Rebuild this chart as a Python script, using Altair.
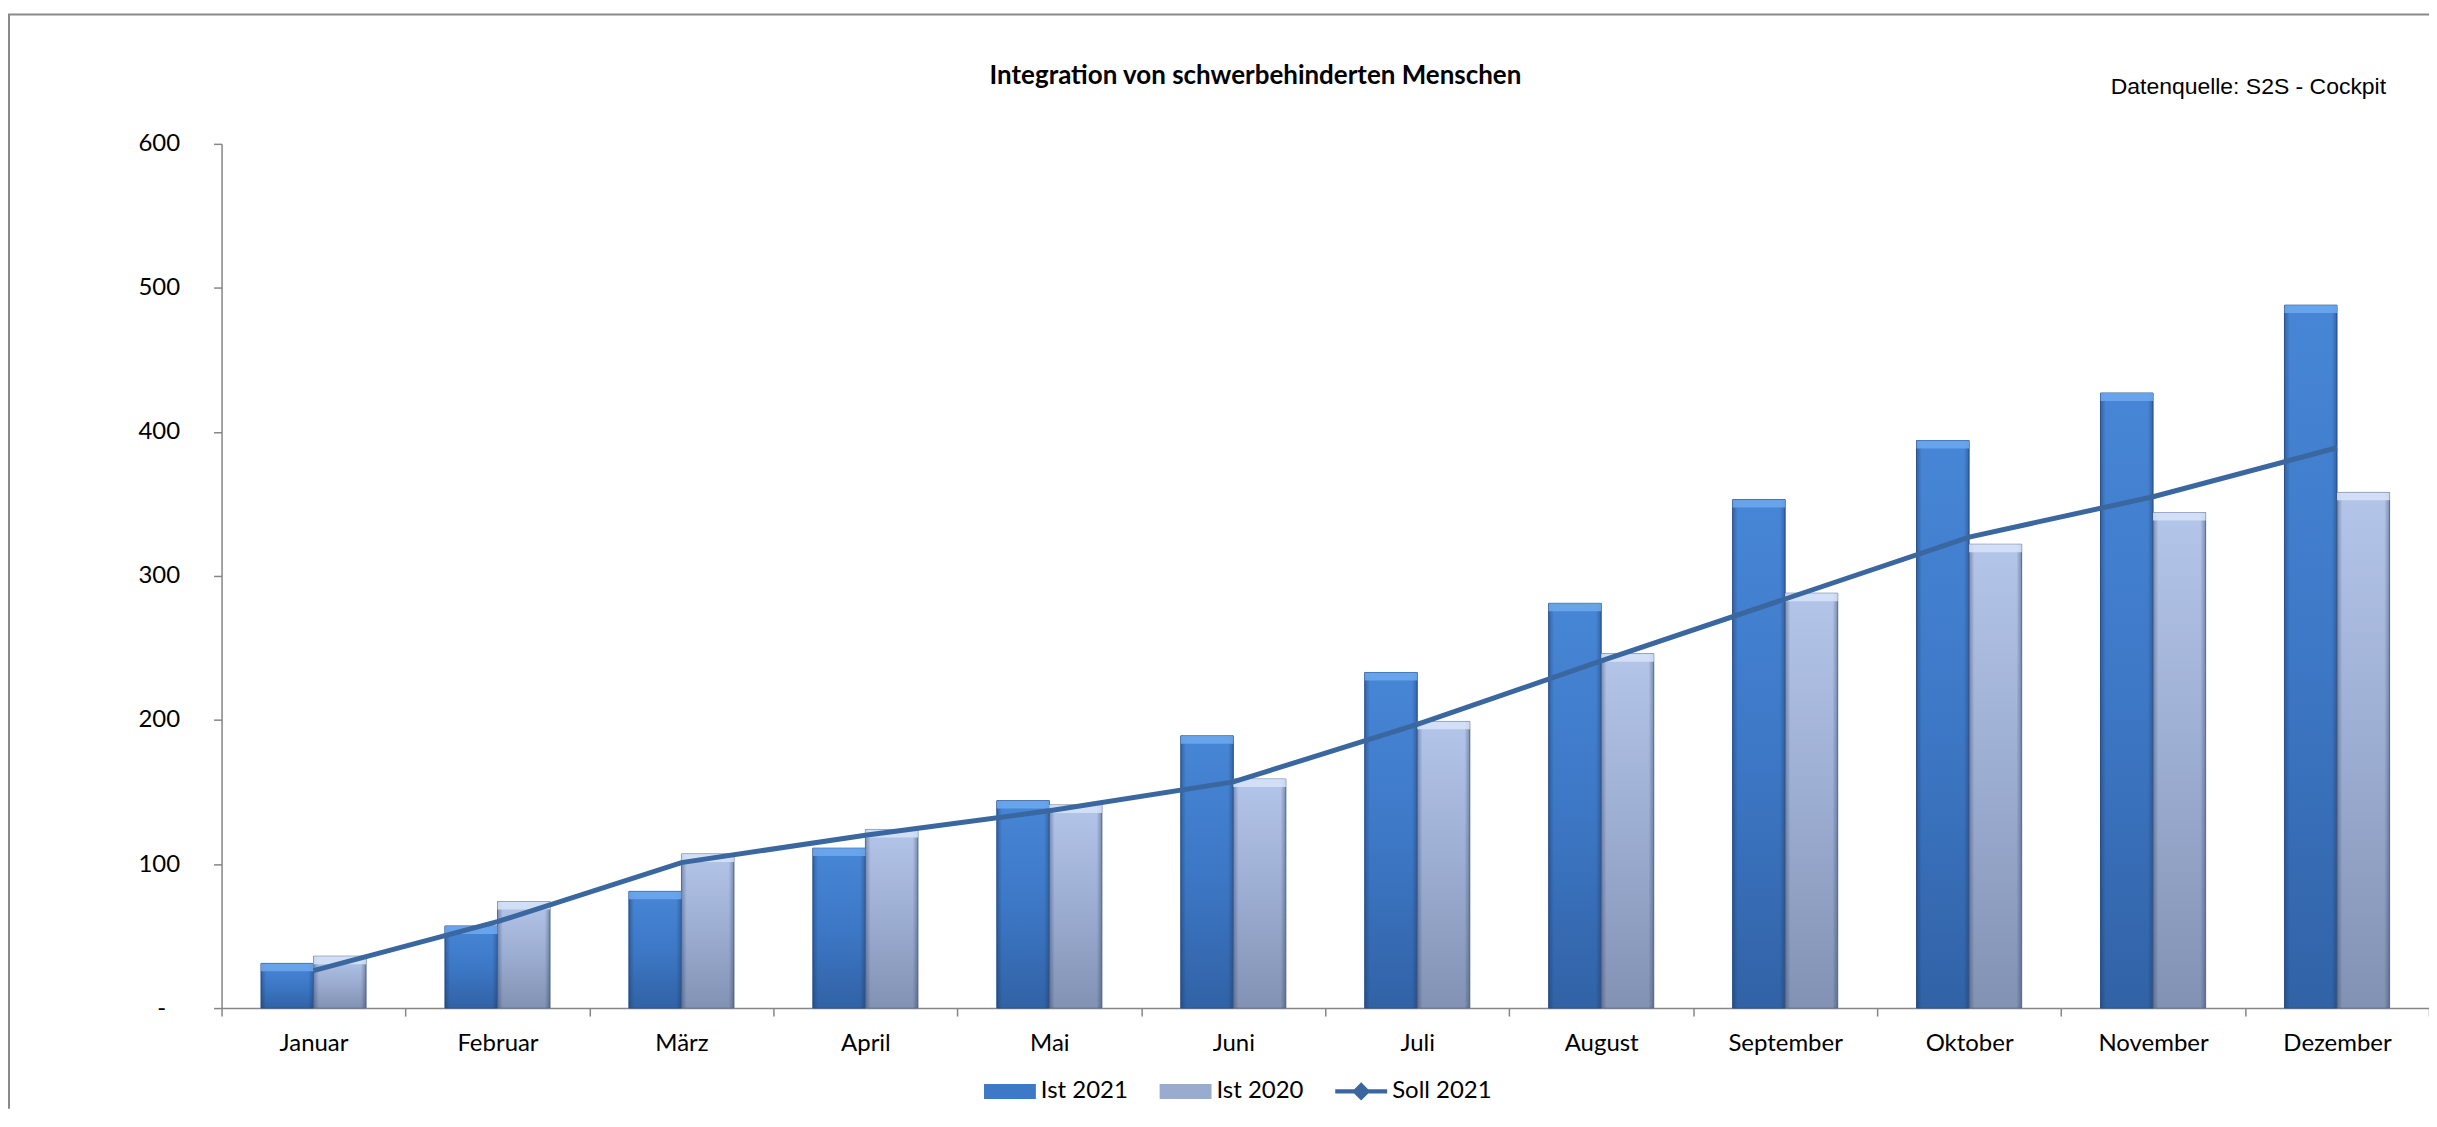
import altair as alt
import pandas as pd

months = ["Januar", "Februar", "März", "April", "Mai", "Juni", "Juli",
          "August", "September", "Oktober", "November", "Dezember"]
ist_2021 = [31, 57, 81, 111, 144, 189, 233, 281, 353, 394, 427, 488]
ist_2020 = [36, 74, 107, 124, 141, 159, 199, 246, 288, 322, 344, 358]
soll_2021 = [26, 60, 101, 120, 137, 157, 197, 241, 284, 327, 355, 389]
series_names = ["Ist 2021", "Ist 2020", "Soll 2021"]
y_ticks = [0, 100, 200, 300, 400, 500, 600]

title_text = "Integration von schwerbehinderten Menschen"
source_text = "Datenquelle: S2S - Cockpit"

W, H = 2212, 866
FONT = "Lato"

bars_df = pd.DataFrame(
    [{"month": m, "series": "Ist 2021", "value": v} for m, v in zip(months, ist_2021)]
    + [{"month": m, "series": "Ist 2020", "value": v} for m, v in zip(months, ist_2020)]
)
line_df = pd.DataFrame({"month": months, "series": "Soll 2021", "value": soll_2021})
legend_df = pd.DataFrame({"month": ["Januar"] * 3, "series": series_names, "value": [0, 0, 0]})

x_enc = alt.X(
    "month:N",
    sort=months,
    scale=alt.Scale(domain=months, paddingInner=0, paddingOuter=0),
    axis=alt.Axis(
        title=None, labelAngle=0, tickBand="extent", tickSize=8, labelPadding=16,
        labelFont=FONT, labelFontSize=24, labelColor="#000000",
        domainColor="#868686", tickColor="#868686", domainWidth=1.5, tickWidth=1.5,
        grid=False,
    ),
)
y_axis = alt.Axis(
    title=None, values=y_ticks, grid=False, tickSize=8,
    labelPadding={"condition": {"test": "datum.value == 0", "value": 48}, "value": 34},
    labelFont=FONT, labelFontSize=24, labelColor="#000000",
    domainColor="#868686", tickColor="#868686", domainWidth=1.5, tickWidth=1.5,
    labelExpr="datum.value == 0 ? '-' : datum.label",
)
y_scale = alt.Scale(domain=[0, 600], nice=False, zero=True)
xoff = alt.XOffset(
    "series:N",
    scale=alt.Scale(domain=["Ist 2021", "Ist 2020"], paddingInner=0, paddingOuter=0.75),
)

grad_2021 = alt.Gradient(
    gradient="linear", x1=0, x2=0, y1=0, y2=1,
    stops=[alt.GradientStop(color="#4786d6", offset=0),
           alt.GradientStop(color="#3d78c6", offset=0.5),
           alt.GradientStop(color="#3162a6", offset=1)],
)
grad_2020 = alt.Gradient(
    gradient="linear", x1=0, x2=0, y1=0, y2=1,
    stops=[alt.GradientStop(color="#b3c5e8", offset=0),
           alt.GradientStop(color="#9cadd2", offset=0.5),
           alt.GradientStop(color="#8292b3", offset=1)],
)
edge_grad = alt.Gradient(
    gradient="linear", x1=0, x2=1, y1=0, y2=0,
    stops=[alt.GradientStop(color="rgba(20,40,80,0.35)", offset=0),
           alt.GradientStop(color="rgba(20,40,80,0)", offset=0.1),
           alt.GradientStop(color="rgba(20,40,80,0)", offset=0.9),
           alt.GradientStop(color="rgba(20,40,80,0.35)", offset=1)],
)

base_bars = alt.Chart(bars_df)

bars21 = base_bars.transform_filter(alt.datum.series == "Ist 2021").mark_bar(
    fill=grad_2021, stroke="#2c5791", strokeWidth=1
).encode(x=x_enc, xOffset=xoff, y=alt.Y("value:Q", scale=y_scale, axis=y_axis))

bars20 = base_bars.transform_filter(alt.datum.series == "Ist 2020").mark_bar(
    fill=grad_2020, stroke="#67779a", strokeWidth=1
).encode(x=x_enc, xOffset=xoff, y=alt.Y("value:Q", scale=y_scale, axis=y_axis))

edges = base_bars.mark_bar(fill=edge_grad, strokeWidth=0).encode(
    x=x_enc, xOffset=xoff, y=alt.Y("value:Q", scale=y_scale, axis=y_axis)
)

bevel = base_bars.transform_calculate(top2="datum.value - 5.5").mark_bar(
    strokeWidth=0
).encode(
    x=x_enc, xOffset=xoff,
    y=alt.Y("value:Q", scale=y_scale, axis=y_axis),
    y2="top2:Q",
    fill=alt.condition(alt.datum.series == "Ist 2021", alt.value("#6ea9ee"), alt.value("#d7e4f8")),
    opacity=alt.value(0.85),
)

line = alt.Chart(line_df).mark_line(color="#3a679f", strokeWidth=5).encode(
    x=x_enc, y=alt.Y("value:Q", scale=y_scale, axis=y_axis)
)

bar_sym = "M-1,-0.29L1,-0.29L1,0.29L-1,0.29Z"
line_sym = "M-1,-0.085L1,-0.085L1,0.085L-1,0.085Z M0,-0.35L0.35,0L0,0.35L-0.35,0Z"

legend_props = dict(
    orient="none", legendX=764, legendY=923.5, direction="horizontal",
    title=None, labelFont=FONT, labelFontSize=24, labelColor="#000000",
    symbolSize=2704, labelOffset=5, columnPadding=31, padding=0,
    symbolStrokeWidth=0, symbolOpacity=1,
)

legend_layer = alt.Chart(legend_df).mark_point(filled=True, opacity=0).encode(
    x=x_enc,
    y=alt.Y("value:Q", scale=y_scale, axis=y_axis),
    color=alt.Color(
        "series:N",
        scale=alt.Scale(domain=series_names, range=["#3d79c7", "#9aabd0", "#3a679f"]),
        legend=alt.Legend(**legend_props),
    ),
    shape=alt.Shape(
        "series:N",
        scale=alt.Scale(domain=series_names, range=[bar_sym, bar_sym, line_sym]),
        legend=alt.Legend(**legend_props),
    ),
)

one = pd.DataFrame({"t": [title_text]})
title_mark = alt.Chart(one).mark_text(
    font=FONT, fontSize=26, fontWeight="bold", color="#000000",
    align="center", baseline="alphabetic",
).encode(text="t:N", x=alt.value(1036), y=alt.value(-60.3))

src = pd.DataFrame({"t": [source_text]})
source_mark = alt.Chart(src).mark_text(
    font="Liberation Sans", fontSize=23, color="#000000",
    align="right", baseline="alphabetic",
).encode(text="t:N", x=alt.value(2169), y=alt.value(-50.3))

frame_df = pd.DataFrame({"k": [1]})
frame_top = alt.Chart(frame_df).mark_rule(color="#8a8a8a", strokeWidth=2).encode(
    x=alt.value(-214), x2=alt.value(W), y=alt.value(-129.7)
)
frame_left = alt.Chart(frame_df).mark_rule(color="#8a8a8a", strokeWidth=2).encode(
    x=alt.value(-213), y=alt.value(-129.7), y2=alt.value(H + 101)
)

chart = alt.layer(
    frame_top, frame_left, bars21, bars20, edges, bevel, line, legend_layer,
    title_mark, source_mark,
).properties(
    width=W, height=H,
    autosize=alt.AutoSizeParams(type="none"),
    padding={"left": 214, "top": 135, "right": 0, "bottom": 101},
    background="#ffffff",
).configure_view(stroke=None)

chart.save("out.html", embed_options={"renderer": "svg", "actions": False})
